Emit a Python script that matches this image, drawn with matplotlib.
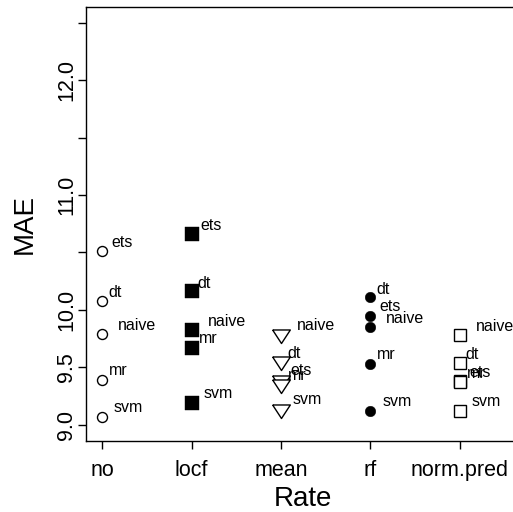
import matplotlib
matplotlib.use("Agg")
import matplotlib.pyplot as plt
import numpy as np

plt.rcParams['font.family'] = ['Liberation Sans', 'DejaVu Sans']

# imputation methods along x
rates = ["no", "locf", "mean", "rf", "norm.pred"]
models = ["ets", "dt", "naive", "mr", "svm"]

# MAE per model, one list per imputation method (order follows `models`)
mae_no = [10.51, 10.08, 9.79, 9.39, 9.07]
mae_locf = [10.66, 10.16, 9.82, 9.67, 9.19]
mae_mean = [9.39, 9.55, 9.79, 9.35, 9.14]
mae_rf = [9.95, 10.11, 9.85, 9.53, 9.12]
mae_normpred = [9.38, 9.54, 9.78, 9.37, 9.12]

yticks = [9.0, 9.5, 10.0, 10.5, 11.0, 11.5, 12.0, 12.5]
yticklabels = ["9.0", "9.5", "10.0", "", "11.0", "", "12.0", ""]

tri_down = [(-0.98, 0.5), (0.98, 0.5), (0.0, -1.0), (-0.98, 0.5)]

# marker style per method (R pch 1, 15, 6, 16, 0)
styles = {
    "no": dict(marker="o", ms=7.2, mfc="white", mec="black", mew=1.0),
    "locf": dict(marker="s", ms=9.4, mfc="black", mec="black", mew=0.3),
    "mean": dict(marker=tri_down, ms=13.0, mfc="white", mec="black", mew=1.0),
    "rf": dict(marker="o", ms=7.6, mfc="black", mec="black", mew=0.3),
    "norm.pred": dict(marker="s", ms=8.0, mfc="white", mec="black", mew=1.0),
}

# label offsets (points) relative to each marker
label_dx = {"ets": 6.5, "dt": 4.3, "naive": 11.5, "mr": 5.0, "svm": 8.6}
label_dy = {"ets": 3.2, "dt": 2.5, "naive": 3.1, "mr": 3.2, "svm": 3.5}

all_mae = [mae_no, mae_locf, mae_mean, mae_rf, mae_normpred]

fig = plt.figure(figsize=(5.13, 5.12), dpi=100)
ax = fig.add_axes([0.1676, 0.1393, 0.8474, 0.8477])

for i, (rate, vals) in enumerate(zip(rates, all_mae)):
    xpos = i + 1
    for m, v in zip(models, vals):
        ax.plot([xpos], [v], linestyle="none", **styles[rate])
        ax.annotate(m, (xpos, v), xytext=(label_dx[m], label_dy[m]),
                    textcoords="offset points", ha="left", va="baseline",
                    fontsize=11.5)

ax.set_xlim(0.82, 5.68)
ax.set_ylim(8.86, 12.64)
ax.set_xticks(range(1, len(rates) + 1))
ax.set_xticklabels(rates)
ax.set_yticks(yticks)
ax.set_yticklabels(yticklabels, rotation=90, va="center")

ax.tick_params(direction="out", length=6, width=1.0, labelsize=15.5)
ax.tick_params(axis="x", pad=8)
ax.tick_params(axis="y", pad=0.5)
for s in ax.spines.values():
    s.set_linewidth(1.0)

ax.set_xlabel("Rate", fontsize=20, labelpad=3.5)
ax.set_ylabel("MAE", fontsize=20, labelpad=13)

fig.savefig("out.png", dpi=100)
